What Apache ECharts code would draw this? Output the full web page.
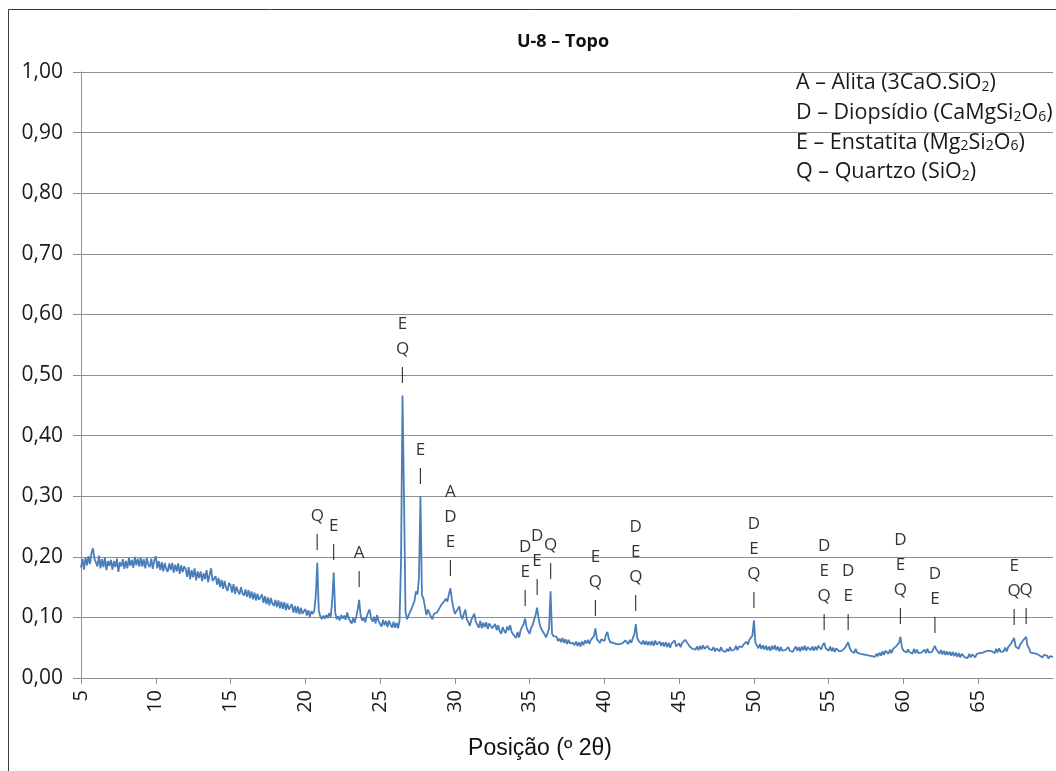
<!DOCTYPE html>
<html>
<head>
<meta charset="utf-8">
<script src="https://cdn.jsdelivr.net/npm/echarts@6.0.0/dist/echarts.min.js"></script>
<style>
  html, body { margin: 0; padding: 0; background: #ffffff; }
  #chart { width: 1056px; height: 771px; }
</style>
</head>
<body>
<div id="chart"></div>
<script>
// X-ray diffraction pattern, sample U-8 (top)
const chartTitle = 'U-8 – Topo';
const axisTitle = 'Posição (º 2θ)';

// sampling grid of the scan (º 2θ)
const scanStart = 5.0;
const scanStep = 0.1;

// relative intensity, one row per degree (x.0 … x.9)
const intensity = [
  .182, .196, .179, .199, .186, .201, .188, .206, .214, .197, // 5
  .199, .184, .202, .181, .196, .183, .199, .178, .193, .185, // 6
  .195, .179, .193, .183, .197, .175, .191, .184, .196, .180, // 7
  .193, .181, .198, .185, .195, .182, .200, .186, .197, .184, // 8
  .199, .184, .196, .181, .198, .187, .183, .197, .180, .194, // 9
  .201, .181, .193, .178, .191, .176, .190, .180, .175, .189, // 10
  .178, .190, .174, .187, .176, .189, .172, .186, .175, .184, // 11
  .180, .167, .183, .163, .178, .166, .181, .161, .176, .165, // 12
  .176, .160, .173, .163, .178, .158, .170, .181, .160, .157, // 13
  .168, .154, .165, .150, .162, .147, .160, .149, .144, .157, // 14
  .153, .141, .155, .139, .151, .143, .138, .150, .140, .136, // 15
  .146, .134, .145, .132, .143, .130, .141, .128, .139, .129, // 16
  .127, .138, .124, .135, .122, .133, .120, .132, .123, .119, // 17
  .129, .117, .128, .115, .126, .114, .125, .112, .123, .113, // 18
  .110, .122, .108, .119, .107, .118, .105, .116, .106, .104, // 19
  .114, .103, .112, .101, .110, .106, .111, .135, .190, .112, // 20
  .102, .097, .103, .098, .104, .099, .107, .101, .128, .174, // 21
  .108, .097, .102, .095, .104, .098, .103, .096, .108, .099, // 22
  .094, .090, .099, .091, .101, .112, .129, .103, .095, .099, // 23
  .092, .101, .108, .113, .098, .093, .101, .090, .104, .094, // 24
  .089, .085, .096, .087, .094, .084, .095, .088, .083, .093, // 25
  .083, .091, .082, .094, .190, .466, .300, .110, .097, .103, // 26
  .101, .114, .116, .127, .143, .138, .165, .300, .137, .131, // 27
  .128, .104, .113, .110, .101, .097, .106, .104, .108, .112, // 28
  .112, .121, .119, .127, .131, .126, .138, .148, .130, .116, // 29
  .106, .103, .114, .118, .103, .097, .106, .113, .097, .092, // 30
  .086, .096, .097, .106, .093, .088, .083, .094, .082, .091, // 31
  .084, .092, .081, .090, .093, .082, .080, .089, .079, .087, // 32
  .077, .073, .084, .078, .074, .085, .079, .087, .076, .072, // 33
  .069, .066, .076, .067, .079, .081, .089, .098, .083, .077, // 34
  .073, .083, .087, .096, .104, .116, .099, .086, .080, .076, // 35
  .072, .067, .070, .081, .143, .073, .069, .066, .068, .061, // 36
  .065, .059, .066, .058, .064, .056, .063, .057, .059, .058, // 37
  .054, .060, .053, .059, .052, .060, .054, .062, .057, .063, // 38
  .056, .063, .061, .069, .082, .064, .061, .058, .064, .062, // 39
  .061, .071, .076, .064, .059, .061, .058, .060, .056, .059, // 40
  .056, .058, .057, .055, .062, .060, .056, .063, .058, .066, // 41
  .071, .089, .066, .061, .063, .056, .062, .055, .061, .054, // 42
  .060, .054, .061, .053, .062, .055, .052, .060, .053, .059, // 43
  .052, .059, .051, .058, .050, .057, .056, .062, .052, .050, // 44
  .057, .051, .058, .056, .063, .061, .056, .052, .054, .048, // 45
  .051, .047, .052, .046, .053, .047, .054, .048, .045, .053, // 46
  .048, .050, .046, .051, .044, .049, .052, .044, .051, .045, // 47
  .047, .043, .048, .044, .051, .045, .048, .047, .053, .046, // 48
  .052, .049, .051, .055, .053, .060, .055, .063, .066, .070, // 49
  .095, .058, .055, .049, .056, .048, .054, .047, .053, .046, // 50
  .052, .045, .053, .047, .054, .046, .052, .044, .051, .045, // 51
  .047, .046, .044, .051, .045, .047, .043, .048, .052, .045, // 52
  .051, .044, .052, .046, .053, .045, .051, .054, .046, .052, // 53
  .045, .052, .046, .053, .051, .047, .054, .058, .049, .051, // 54
  .045, .052, .044, .050, .043, .049, .051, .044, .046, .045, // 55
  .043, .050, .048, .059, .050, .045, .047, .041, .048, .042, // 56
  .044, .040, .043, .039, .042, .038, .041, .037, .040, .036, // 57
  .039, .035, .040, .036, .042, .037, .044, .038, .045, .042, // 58
  .040, .047, .041, .048, .046, .052, .051, .058, .068, .050, // 59
  .045, .046, .042, .047, .043, .044, .040, .048, .041, .047, // 60
  .041, .043, .042, .040, .047, .041, .048, .042, .044, .043, // 61
  .045, .053, .047, .047, .040, .046, .039, .045, .038, .044, // 62
  .038, .043, .037, .043, .036, .042, .035, .041, .034, .040, // 63
  .037, .034, .036, .033, .040, .034, .039, .037, .034, .040, // 64
  .038, .041, .039, .042, .040, .044, .041, .045, .042, .044, // 65
  .047, .041, .048, .042, .049, .043, .045, .044, .050, .044, // 66
  .051, .050, .057, .058, .066, .052, .053, .048, .055, .054, // 67
  .062, .061, .068, .053, .049, .042, .043, .041, .041, .040, // 68
  .040, .037, .039, .034, .038, .035, .037, .032, .036, .034, // 69
  .035                                                        // 70
];

// identified reflections: position (º 2θ) and phase letters
const peakPositions = [20.8, 21.9, 23.6, 26.5, 27.7, 29.7, 34.7, 35.5, 36.4,
                       39.4, 42.1, 50.0, 54.7, 56.3, 59.8, 62.1, 67.4, 68.2];
const peakPhases = ['Q', 'E', 'A', 'EQ', 'E', 'ADE', 'DE', 'DE', 'Q',
                    'EQ', 'DEQ', 'DEQ', 'DEQ', 'DE', 'DEQ', 'DE', 'EQ', 'Q'];

// phase key (rich text, {s|…} = subscript)
const phaseKey = [
  '{t|A – Alita (3CaO.SiO}{s|2}{t|)}',
  '{t|D – Diopsídio (CaMgSi}{s|2}{t|O}{s|6}{t|)}',
  '{t|E – Enstatita (Mg}{s|2}{t|Si}{s|2}{t|O}{s|6}{t|)}',
  '{t|Q – Quartzo (SiO}{s|2}{t|)}'
];

const yTicks = { min: 0, max: 1, step: 0.1 };
const xTicks = { min: 5, max: 70, step: 5 };

const twoTheta = intensity.map((_, i) => +(scanStart + i * scanStep).toFixed(1));
const intensityAt = x => intensity[Math.round((x - scanStart) / scanStep)];

const FONT = '"Open Sans", "Liberation Sans", sans-serif';
const GRID_COLOR = '#8f8f8f';
const TEXT_COLOR = '#1a1a1a';

const chart = echarts.init(document.getElementById('chart'), null, { renderer: 'canvas' });

const keyGraphics = phaseKey.map((txt, i) => ({
  type: 'text',
  left: 796,
  top: 72 + i * 29.7,
  z: 10,
  style: {
    text: txt,
    rich: {
      t: { fontFamily: FONT, fontSize: 21.5, lineHeight: 30, fill: TEXT_COLOR, color: TEXT_COLOR, verticalAlign: 'bottom' },
      s: { fontFamily: FONT, fontSize: 14, lineHeight: 20, fill: TEXT_COLOR, color: TEXT_COLOR, verticalAlign: 'bottom' }
    }
  }
}));

chart.setOption({
  animation: false,
  backgroundColor: '#ffffff',
  grid: { left: 81, right: 3, top: 72, bottom: 93, containLabel: false },
  xAxis: {
    type: 'value',
    min: xTicks.min,
    max: xTicks.max,
    interval: xTicks.step,
    axisLine: { show: true, lineStyle: { color: GRID_COLOR, width: 1 } },
    axisTick: { show: true, length: 6, lineStyle: { color: GRID_COLOR } },
    splitLine: { show: false },
    axisLabel: {
      rotate: 90,
      margin: 12,
      fontFamily: FONT,
      fontSize: 20,
      color: TEXT_COLOR,
      showMaxLabel: false
    }
  },
  yAxis: {
    type: 'value',
    min: yTicks.min,
    max: yTicks.max,
    interval: yTicks.step,
    axisLine: { show: true, lineStyle: { color: GRID_COLOR, width: 1 } },
    axisTick: { show: true, length: 8, lineStyle: { color: GRID_COLOR } },
    splitLine: { show: true, lineStyle: { color: GRID_COLOR, width: 1 } },
    axisLabel: {
      margin: 18,
      fontFamily: FONT,
      fontSize: 21,
      color: TEXT_COLOR,
      formatter: v => v.toFixed(2).replace('.', ',')
    }
  },
  series: [
    {
      name: 'U-8 – Topo',
      type: 'line',
      data: twoTheta.map((x, i) => [x, intensity[i]]),
      symbol: 'none',
      showSymbol: false,
      lineStyle: { color: '#4a7ebb', width: 1.8 },
      z: 3
    },
    {
      name: 'fases',
      type: 'scatter',
      symbolSize: 0,
      silent: true,
      z: 5,
      data: peakPositions.map((x, i) => ({ value: [x, intensityAt(x)], name: peakPhases[i] })),
      label: {
        show: true,
        position: 'top',
        distance: 9,
        align: 'center',
        formatter: p => p.name.split('').join('\n') + '\n|',
        fontFamily: FONT,
        fontSize: 17,
        lineHeight: 25,
        color: '#000000'
      }
    }
  ],
  graphic: [
    {
      type: 'rect',
      shape: { x: 8.5, y: 9.5, width: 1100, height: 800 },
      style: { fill: 'none', stroke: '#3a3a3a', lineWidth: 1 },
      silent: true,
      z: -1
    },
    {
      type: 'text',
      x: 563,
      y: 42,
      z: 10,
      style: {
        text: chartTitle,
        fontFamily: FONT,
        fontWeight: 'bold',
        fontSize: 18,
        fill: '#111111',
        textAlign: 'center',
        textVerticalAlign: 'middle'
      }
    },
    {
      type: 'text',
      x: 540,
      y: 749,
      z: 10,
      style: {
        text: axisTitle,
        fontFamily: '"Liberation Sans", Arial, sans-serif',
        fontSize: 23,
        fill: '#111111',
        textAlign: 'center',
        textVerticalAlign: 'middle'
      }
    },
    ...keyGraphics
  ]
});
</script>
</body>
</html>
